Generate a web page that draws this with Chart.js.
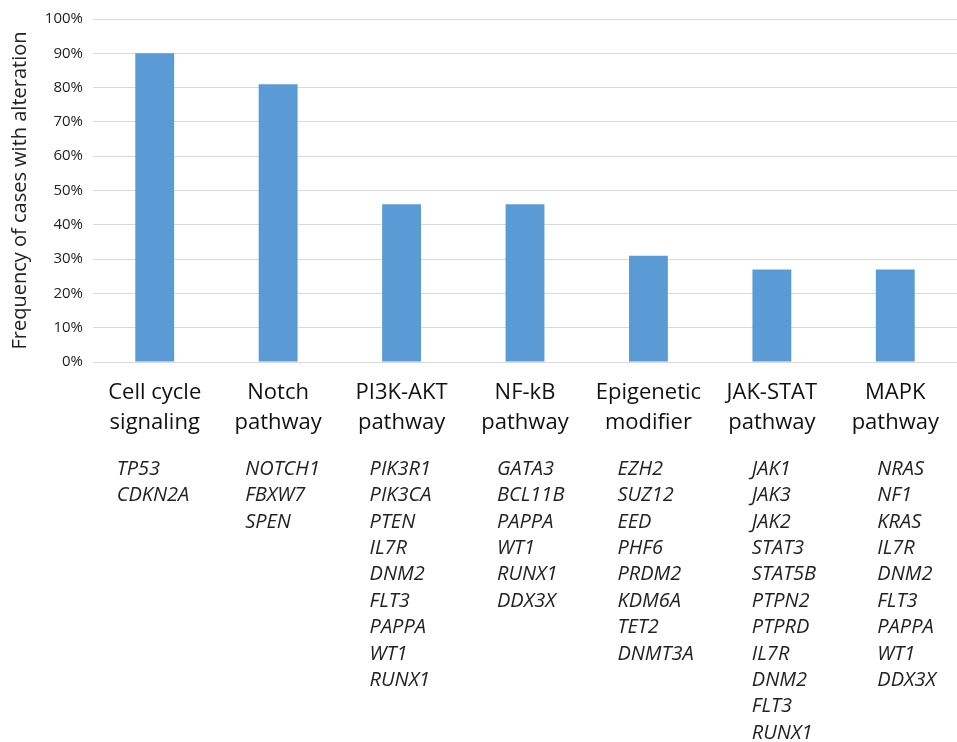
<!DOCTYPE html>
<html>
<head>
<meta charset="utf-8">
<script src="https://cdn.jsdelivr.net/npm/chart.js@4"></script>
<style>
  html, body { margin: 0; padding: 0; background: #fff; }
  #wrap { width: 957px; height: 742px; }
</style>
</head>
<body>
<div id="wrap"><canvas id="pathwayChart" width="957" height="742"></canvas></div>
<script>
// Pathway categories (two-line labels)
const categories = [
    ['Cell cycle', 'signaling'],
    ['Notch', 'pathway'],
    ['PI3K-AKT', 'pathway'],
    ['NF-kB', 'pathway'],
    ['Epigenetic', 'modifier'],
    ['JAK-STAT', 'pathway'],
    ['MAPK', 'pathway']
];

// Frequency of cases with alteration (%)
const frequencies = [90, 81, 46, 46, 31, 27, 27];

// Genes listed under each pathway
const geneLists = [
    ['TP53', 'CDKN2A'],
    ['NOTCH1', 'FBXW7', 'SPEN'],
    ['PIK3R1', 'PIK3CA', 'PTEN', 'IL7R', 'DNM2', 'FLT3', 'PAPPA', 'WT1', 'RUNX1'],
    ['GATA3', 'BCL11B', 'PAPPA', 'WT1', 'RUNX1', 'DDX3X'],
    ['EZH2', 'SUZ12', 'EED', 'PHF6', 'PRDM2', 'KDM6A', 'TET2', 'DNMT3A'],
    ['JAK1', 'JAK3', 'JAK2', 'STAT3', 'STAT5B', 'PTPN2', 'PTPRD', 'IL7R', 'DNM2', 'FLT3', 'RUNX1'],
    ['NRAS', 'NF1', 'KRAS', 'IL7R', 'DNM2', 'FLT3', 'PAPPA', 'WT1', 'DDX3X']
];

const yTicks = [0, 10, 20, 30, 40, 50, 60, 70, 80, 90, 100];

// left indent of each gene column relative to the category centre
const geneIndent = [-38, -33, -32, -28, -31, -20, -18];

// Draw the italic gene names under the category labels
const geneListPlugin = {
    id: 'geneLists',
    afterDraw(chart) {
        const { ctx, chartArea } = chart;
        const x = chart.scales.x;
        ctx.save();
        ctx.font = 'italic 20px "Open Sans"';
        ctx.fillStyle = '#222';
        ctx.textAlign = 'left';
        ctx.textBaseline = 'middle';
        geneLists.forEach((genes, i) => {
            const left = x.getPixelForValue(i) + geneIndent[i];
            genes.forEach((gene, j) => {
                ctx.fillText(gene, left, chartArea.bottom + 107 + j * 26.4);
            });
        });
        ctx.restore();
    }
};

const ctx = document.getElementById('pathwayChart').getContext('2d');
const pathwayChart = new Chart(ctx, {
    type: 'bar',
    data: {
        labels: categories,
        datasets: [{
            data: frequencies,
            backgroundColor: '#5b9bd5',
            borderWidth: 0,
            barPercentage: 0.63,
            categoryPercentage: 0.5
        }]
    },
    options: {
        responsive: false,
        animation: false,
        layout: { padding: { top: 16, right: 0, left: 0, bottom: 0 } },
        plugins: {
            legend: { display: false },
            tooltip: { enabled: false }
        },
        scales: {
            x: {
                grid: { display: false, drawTicks: false },
                border: { color: '#d9d9d9', width: 1 },
                ticks: {
                    color: '#111',
                    font: { family: '"Open Sans"', size: 22, lineHeight: 1.4 },
                    padding: 15,
                    maxRotation: 0,
                    autoSkip: false
                },
                afterFit: (scale) => { scale.height = 380; }
            },
            y: {
                min: 0,
                max: 100,
                afterBuildTicks: (scale) => {
                    scale.ticks = yTicks.map(v => ({ value: v }));
                },
                grid: { color: '#d9d9d9', lineWidth: 1, drawTicks: false },
                border: { display: false },
                ticks: {
                    color: '#222',
                    font: { family: '"Open Sans"', size: 15 },
                    padding: 10,
                    callback: (value) => value + '%'
                },
                title: {
                    display: true,
                    text: 'Frequency of cases with alteration',
                    color: '#222',
                    font: { family: '"Open Sans"', size: 20 },
                    padding: { top: 8, bottom: 4 }
                },
                afterFit: (scale) => { scale.width = 93; }
            }
        }
    },
    plugins: [geneListPlugin]
});
</script>
</body>
</html>
